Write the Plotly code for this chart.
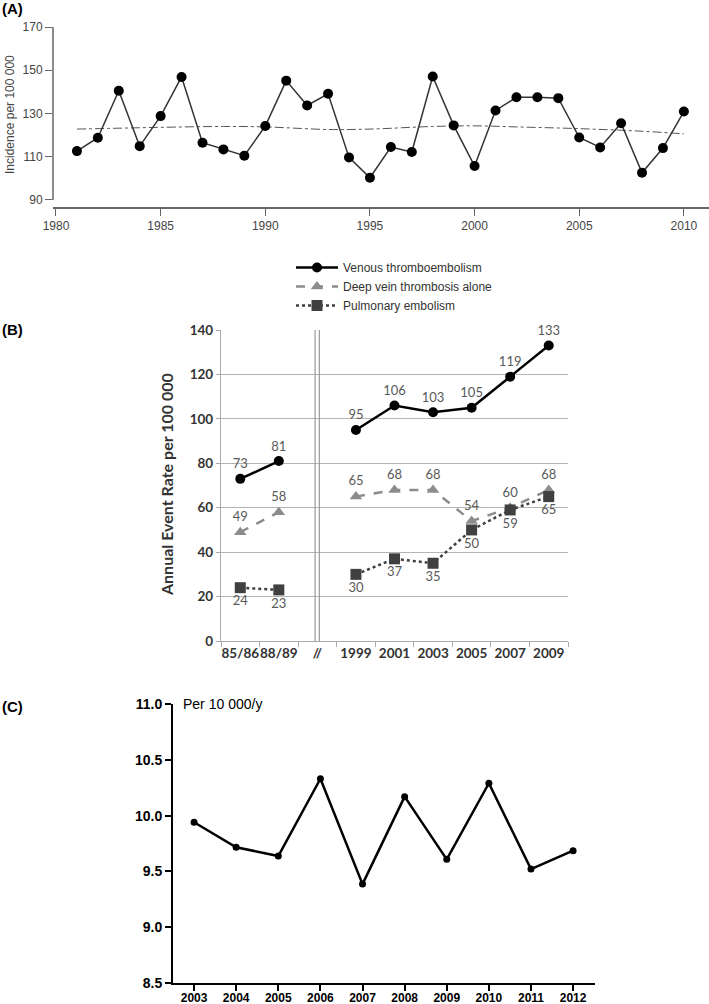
import plotly.graph_objects as go

# ---------------- Data ----------------
# Panel A
years_a = list(range(1981, 2011))
incidence_a = [112.6, 118.8, 140.5, 114.9, 128.8, 146.9, 116.5, 113.4, 110.5, 124.2,
               145.2, 133.7, 139.1, 109.7, 100.3, 114.5, 112.2, 147.1, 124.5, 105.7,
               131.4, 137.5, 137.5, 137.1, 118.9, 114.3, 125.5, 102.6, 114.0, 130.9]
trend_years_a = [1981, 1983, 1985, 1988, 1990, 1993, 1995, 1998, 2000, 2002, 2005, 2008, 2010]
trend_a = [122.8, 123.2, 123.6, 124.0, 123.8, 122.6, 122.8, 124.0, 124.3, 123.8, 123.0, 121.8, 120.6]
ticks_a_x = [1980, 1985, 1990, 1995, 2000, 2005, 2010]
ticks_a_y = [90, 110, 130, 150, 170]

# Panel B
cats_b = ["85/86", "88/89", "//", "1999", "2001", "2003", "2005", "2007", "2009"]
vte_b = [73, 81, None, 95, 106, 103, 105, 119, 133]
dvt_b = [49, 58, None, 65, 68, 68, 54, 60, 68]
pe_b = [24, 23, None, 30, 37, 35, 50, 59, 65]
names_b = ["Venous thromboembolism", "Deep vein thrombosis alone", "Pulmonary embolism"]

# Panel C
years_c = list(range(2003, 2013))
rate_c = [9.94, 9.716, 9.638, 10.33, 9.386, 10.17, 9.608, 10.29, 9.521, 9.686]

W, H = 709, 1004


def px_x(p):
    return p / W


def px_y(p):
    return 1 - p / H


def lbl(v):
    return "" if v is None else str(v)


fig = go.Figure()

# ---------------- Panel A ----------------
fig.add_trace(go.Scatter(x=trend_years_a, y=trend_a, mode="lines",
                         line=dict(color="#555555", width=1, dash="dashdot", shape="spline"),
                         xaxis="x", yaxis="y", showlegend=False))
fig.add_trace(go.Scatter(x=years_a, y=incidence_a, mode="lines+markers",
                         line=dict(color="#333333", width=1.5),
                         marker=dict(color="black", size=10),
                         xaxis="x", yaxis="y", showlegend=False))

# ---------------- Panel B ----------------
lab_font = dict(family="Lato, Liberation Sans", size=13, color="#595959")
fig.add_trace(go.Scatter(x=cats_b, y=vte_b, mode="lines+markers+text", name=names_b[0],
                         text=[lbl(v) for v in vte_b], textposition="top center",
                         textfont=lab_font, cliponaxis=False,
                         line=dict(color="black", width=2.5),
                         marker=dict(color="black", size=10, symbol="circle"),
                         xaxis="x2", yaxis="y2"))
fig.add_trace(go.Scatter(x=cats_b, y=dvt_b, mode="lines+markers+text", name=names_b[1],
                         text=[lbl(v) for v in dvt_b], textposition="top center",
                         textfont=lab_font, cliponaxis=False,
                         line=dict(color="#8c8c8c", width=2.5, dash="dash"),
                         marker=dict(color="#8c8c8c", size=11, symbol="triangle-up"),
                         xaxis="x2", yaxis="y2"))
fig.add_trace(go.Scatter(x=cats_b, y=pe_b, mode="lines+markers+text", name=names_b[2],
                         text=[lbl(v) for v in pe_b], textposition="bottom center",
                         textfont=lab_font, cliponaxis=False,
                         line=dict(color="#404040", width=2.5, dash="dot"),
                         marker=dict(color="#404040", size=11, symbol="square"),
                         xaxis="x2", yaxis="y2"))

# ---------------- Panel C ----------------
fig.add_trace(go.Scatter(x=years_c, y=rate_c, mode="lines+markers",
                         line=dict(color="black", width=2.5),
                         marker=dict(color="black", size=7),
                         xaxis="x3", yaxis="y3", showlegend=False))

font_a = dict(family="Arial, Liberation Sans", size=12, color="#444444")
font_b = dict(family="Lato, Liberation Sans", size=13.5, color="#333333", weight="bold")

fig.update_layout(
    width=W, height=H,
    margin=dict(l=0, r=0, t=0, b=0, autoexpand=False),
    paper_bgcolor="white", plot_bgcolor="white",
    font=dict(family="Arial, Liberation Sans"),
    # Panel A axes
    xaxis=dict(domain=[px_x(53), 1.0], range=[1979.857, 2011.2], tickvals=ticks_a_x,
               showline=True, linecolor="#666666", linewidth=1.5, ticks="outside",
               ticklen=7, tickcolor="#666666", tickfont=font_a, showgrid=False,
               zeroline=False, anchor="y", automargin=False),
    yaxis=dict(domain=[px_y(207), px_y(20)], range=[86.76, 173.24], tickvals=ticks_a_y,
               showline=False, ticks="outside", ticklen=7, tickcolor="#666666",
               tickfont=font_a, showgrid=False, zeroline=False, anchor="x", automargin=False),
    # Panel B axes
    xaxis2=dict(domain=[px_x(221), px_x(568)], type="category", range=[-0.5, 8.5],
                showline=True, linecolor="#aaaaaa", linewidth=1.2, ticks="outside",
                tickson="boundaries", ticklen=5, tickcolor="#aaaaaa", tickfont=font_b,
                tickangle=0, showgrid=False, zeroline=False, anchor="y2", automargin=False),
    yaxis2=dict(domain=[px_y(641), px_y(330)], range=[0, 140], dtick=20,
                showline=True, linecolor="#aaaaaa", linewidth=1.2, ticks="outside",
                ticklen=4, tickcolor="#aaaaaa", tickfont=font_b, showgrid=True,
                gridcolor="#b4b4b4", gridwidth=1.2, zeroline=False, anchor="x2", automargin=False),
    # Panel C axes
    xaxis3=dict(domain=[px_x(173), px_x(595)], range=[2002.5, 2012.52], tickvals=years_c,
                showline=True, linecolor="black", linewidth=2, ticks="outside",
                ticklen=6, tickwidth=2, tickcolor="black", ticklabelstandoff=-3,
                tickfont=dict(family="Arial, Liberation Sans", size=12, color="black", weight="bold"),
                showgrid=False, zeroline=False, anchor="y3", automargin=False),
    yaxis3=dict(domain=[px_y(983), px_y(704)], range=[8.5, 11.0], dtick=0.5, tickformat=".1f",
                showline=True, linecolor="black", linewidth=2, ticks="outside",
                ticklen=6, tickwidth=2, tickcolor="black",
                tickfont=dict(family="Arial, Liberation Sans", size=14, color="black", weight="bold"),
                showgrid=False, zeroline=False, anchor="x3", automargin=False),
    legend=dict(x=px_x(291), y=px_y(253), xanchor="left", yanchor="top",
                font=dict(family="Arial, Liberation Sans", size=12, color="#333333"),
                bgcolor="rgba(0,0,0,0)", tracegroupgap=0, itemwidth=42),
    showlegend=True,
)

shapes = [
    # Panel A y-axis line spanning 90..170
    dict(type="line", xref="x domain", yref="y", x0=0, x1=0, y0=90, y1=170,
         line=dict(color="#666666", width=1.5)),
    # Panel B break double line
    dict(type="line", xref="x2", yref="y2 domain", x0=1.94, x1=1.94, y0=0, y1=1,
         line=dict(color="#999999", width=1.2)),
    dict(type="line", xref="x2", yref="y2 domain", x0=2.05, x1=2.05, y0=0, y1=1,
         line=dict(color="#999999", width=1.2)),
]
fig.update_layout(shapes=shapes)

annotations = [
    dict(text="<b>(A)</b>", x=0, y=px_y(9), xref="paper", yref="paper",
         xanchor="left", yanchor="middle", showarrow=False,
         font=dict(family="Arial, Liberation Sans", size=15, color="black")),
    dict(text="<b>(B)</b>", x=0, y=px_y(330), xref="paper", yref="paper",
         xanchor="left", yanchor="middle", showarrow=False,
         font=dict(family="Arial, Liberation Sans", size=15, color="black")),
    dict(text="<b>(C)</b>", x=0, y=px_y(706), xref="paper", yref="paper",
         xanchor="left", yanchor="middle", showarrow=False,
         font=dict(family="Arial, Liberation Sans", size=15, color="black")),
    dict(text="Incidence per 100 000", x=px_x(10), y=px_y(115), xref="paper", yref="paper",
         xanchor="center", yanchor="middle", textangle=-90, showarrow=False,
         font=dict(family="Arial, Liberation Sans", size=12, color="#444444")),
    dict(text="<b>Annual Event Rate per 100 000</b>", x=px_x(166), y=px_y(485),
         xref="paper", yref="paper", xanchor="center", yanchor="middle", textangle=-90,
         showarrow=False, font=dict(family="Lato, Liberation Sans", size=16, color="#333333")),
    dict(text="Per 10 000/y", x=px_x(181), y=px_y(704), xref="paper", yref="paper",
         xanchor="left", yanchor="middle", showarrow=False,
         font=dict(family="Arial, Liberation Sans", size=14, color="black")),
]
fig.update_layout(annotations=annotations)

fig.write_html("out.html", config={"displayModeBar": False},
               post_script="document.body.style.margin='0';document.body.style.padding='0';")
